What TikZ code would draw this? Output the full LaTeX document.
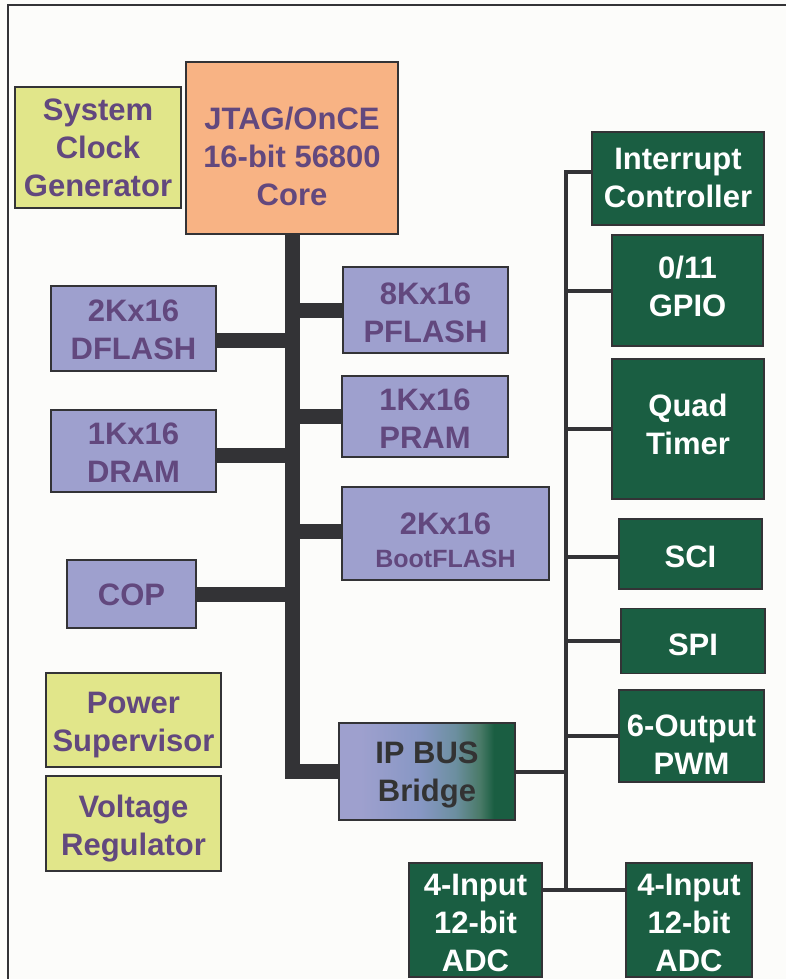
\documentclass[tikz,border=0pt]{standalone}
\usepackage{fontspec}
\setmainfont{Liberation Sans}
\usetikzlibrary{calc,backgrounds}
\definecolor{bg}{HTML}{FCFCFA}
\definecolor{edge}{HTML}{333336}
\definecolor{lav}{HTML}{9EA0CE}
\definecolor{ylw}{HTML}{E1E68A}
\definecolor{org}{HTML}{F8B384}
\definecolor{grn}{HTML}{1A5E42}
\definecolor{purp}{HTML}{62487E}
\definecolor{gtxt}{HTML}{333333}
\definecolor{sA}{HTML}{8797C4}
\definecolor{sB}{HTML}{6C8FA0}
\definecolor{sC}{HTML}{4A7A68}
\pgfdeclarehorizontalshading{bridgeshade}{100bp}{color(0bp)=(lav); color(31bp)=(lav); color(48bp)=(sA); color(58bp)=(sB); color(65bp)=(sC); color(69bp)=(grn); color(100bp)=(grn)}
% #1 = distance of the first baseline above the box centre
\newcommand{\tx}[2]{\smash{\raisebox{#1pt}{\begin{tabular}[t]{@{}c@{}}#2\end{tabular}}}}
\tikzset{
  blk/.style={draw=edge, line width=1.6pt, inner sep=0pt, outer sep=0pt,
    font=\fontsize{31}{38}\selectfont\bfseries},
  sz/.style 2 args={minimum width=#1pt, minimum height=#2pt},
  memblk/.style={blk, fill=lav, text=purp},
  sysblk/.style={blk, fill=ylw, text=purp},
  coreblk/.style={blk, fill=org, text=purp},
  perblk/.style={blk, fill=grn, text=white},
  bus/.style={draw=edge, line width=15pt},
  tbus/.style={draw=edge, line width=4pt},
  frame/.style={draw=edge, line width=2pt}
}
\begin{document}
\begin{tikzpicture}[x=1pt,y=-1pt]
\useasboundingbox (0,0) rectangle (786,979);
\begin{pgfonlayer}{background}
\fill[bg] (0,0) rectangle (786,979);
\draw[frame] (8,985) -- (8,5) -- (795,5);
\end{pgfonlayer}

% left / core column
\node[sysblk, sz={166}{121}] (clk) at (98,147.5) {\tx{27.2}{System\\Clock\\Generator}};
\node[coreblk, sz={212}{172}] (core) at (292,148) {\tx{18.7}{JTAG/OnCE\\16-bit 56800\\Core}};
\node[memblk, sz={165}{85}] (dflash) at (133.5,328.5) {\tx{6.7}{2Kx16\\DFLASH}};
\node[memblk, sz={165}{82}] (dram) at (133.5,451) {\tx{6.4}{1Kx16\\DRAM}};
\node[memblk, sz={129}{68}] (cop) at (131.5,594) {\tx{-11.8}{COP}};
\node[memblk, sz={165}{86}] (pflash) at (425.5,310) {\tx{5.2}{8Kx16\\PFLASH}};
\node[memblk, sz={166}{81}] (pram) at (425,416.5) {\tx{6.5}{1Kx16\\PRAM}};
\node[memblk, sz={207}{93}] (boot) at (445.5,533.5) {\tx{-1.3}{2Kx16\\\noalign{\vskip-5.8pt}{\fontsize{25}{30}\selectfont BootFLASH}}};
\node[blk, shading=bridgeshade, text=gtxt, sz={176}{97}] (bridge) at (427,771.5) {\tx{7.7}{IP BUS\\Bridge}};
\node[sysblk, sz={175}{94}] (psup) at (133.5,720) {\tx{7}{Power\\Supervisor}};
\node[sysblk, sz={175}{95}] (vreg) at (133.5,823.5) {\tx{6.5}{Voltage\\Regulator}};

% peripherals
\node[perblk, sz={172}{93}] (intc) at (678,178.5) {\tx{9.2}{Interrupt\\Controller}};
\node[perblk, sz={151}{111}] (gpio) at (687.5,290.5) {\tx{12.2}{0/11\\GPIO}};
\node[perblk, sz={152}{140}] (timer) at (688,429) {\tx{12.3}{Quad\\Timer}};
\node[perblk, sz={143}{70}] (sci) at (690.5,554) {\tx{-13.3}{SCI}};
\node[perblk, sz={144}{65}] (spi) at (693,641) {\tx{-14.7}{SPI}};
\node[perblk, sz={145}{92}] (pwm) at (691.5,736) {\tx{-0.7}{6-Output\\PWM}};
\node[perblk, sz={133}{114}] (adcl) at (475.5,920) {\tx{24.3}{4-Input\\12-bit\\ADC}};
\node[perblk, sz={126}{114}] (adcr) at (689,920) {\tx{24.3}{4-Input\\12-bit\\ADC}};

\begin{pgfonlayer}{background}
% main core bus
\draw[bus] (core.south) -- (core.south |- bridge.west) -- (bridge.west);
\coordinate (cD) at ($(dflash.east)+(0,11.5)$);
\coordinate (cR) at ($(dram.east)+(0,4)$);
\coordinate (cB) at ($(boot.west)+(0,-2.5)$);
\draw[bus] (cD) -- (cD -| core.south);
\draw[bus] (cR) -- (cR -| core.south);
\draw[bus] (cop.east) -- (cop.east -| core.south);
\draw[bus] (pflash.west) -- (pflash.west -| core.south);
\draw[bus] (pram.west) -- (pram.west -| core.south);
\draw[bus] (cB) -- (cB -| core.south);

% peripheral bus
\coordinate (rbus) at (566,0);
\coordinate (cI) at ($(intc.west)+(0,-6.5)$);
\coordinate (cS) at ($(sci.west)+(0,3)$);
\coordinate (cA) at ($(adcl.east)+(0,-30)$);
\draw[tbus] (cI) -- (cI -| rbus) -- (cA -| rbus);
\draw[tbus] (gpio.west) -- (gpio.west -| rbus);
\draw[tbus] (timer.west) -- (timer.west -| rbus);
\draw[tbus] (cS) -- (cS -| rbus);
\draw[tbus] (spi.west) -- (spi.west -| rbus);
\draw[tbus] (pwm.west) -- (pwm.west -| rbus);
\draw[tbus] (bridge.east) -- (bridge.east -| rbus);
\draw[tbus] (cA) -- (adcr.west |- cA);
\end{pgfonlayer}
\end{tikzpicture}
\end{document}
